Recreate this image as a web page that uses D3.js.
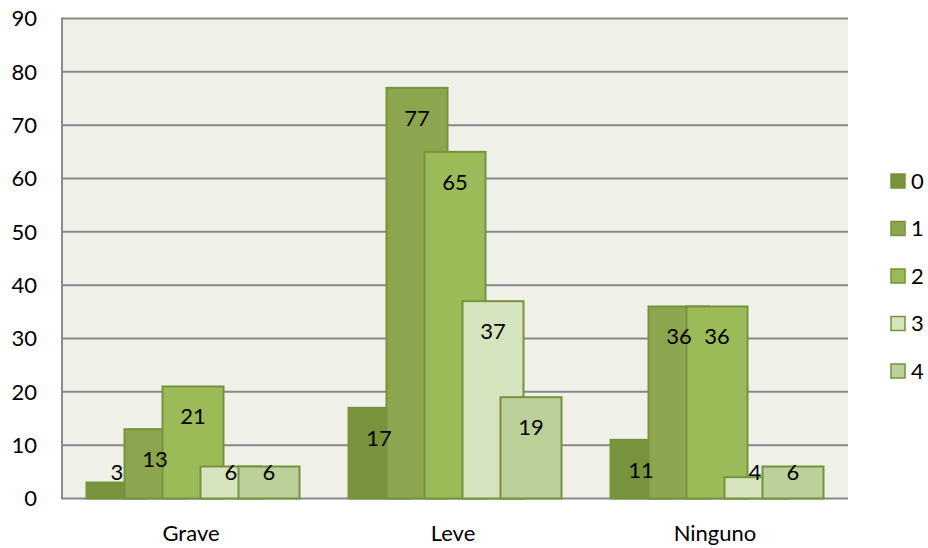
<!DOCTYPE html>
<html>
<head>
<meta charset="utf-8">
<script src="https://cdn.jsdelivr.net/npm/d3@7"></script>
<style>
  body{margin:0;background:#fff;}
  svg text{font-family:Lato,"Open Sans",sans-serif;fill:#000;}
</style>
</head>
<body>
<div id="chart"></div>
<script>
// data
var categories=["Grave","Leve","Ninguno"];
var seriesNames=["0","1","2","3","4"];
var s0=[3,17,11];
var s1=[13,77,36];
var s2=[21,65,36];
var s3=[6,37,4];
var s4=[6,19,6];
var yTicks=[0,10,20,30,40,50,60,70,80,90];

var seriesValues=[s0,s1,s2,s3,s4];
var colors=["#77933c","#8ba64f","#9bbb59","#d6e3bf","#bcd09a"];
var borderColor="#76923c";
var fontSize="22px";

var svgwidth=928,svgheight=548;
var svg=d3.select("#chart").append("svg")
    .attr("width",svgwidth)
    .attr("height",svgheight);

// plot area
var pLeft=62,pRight=848,pTop=18.5,pBottom=498.5;
var barWidth=63,barStep=38;

var x0=d3.scaleBand().domain(categories).range([pLeft,pRight]);
var groupWidth=barStep*(seriesNames.length-1)+barWidth;
var x1=d3.scalePoint().domain(seriesNames).range([0,barStep*(seriesNames.length-1)]);
var y=d3.scaleLinear().domain([0,90]).range([pBottom,pTop]);

// background
svg.append("rect")
    .attr("x",pLeft).attr("y",pTop)
    .attr("width",pRight-pLeft).attr("height",pBottom-pTop)
    .attr("fill","#eff1e8");

// grid lines
svg.append("g").selectAll("line")
    .data(yTicks)
    .enter().append("line")
    .attr("x1",pLeft).attr("x2",pRight)
    .attr("y1",function(d){return y(d);})
    .attr("y2",function(d){return y(d);})
    .attr("stroke","#888888")
    .attr("stroke-width",2);

// y axis line
svg.append("line")
    .attr("x1",pLeft).attr("x2",pLeft)
    .attr("y1",pTop-1).attr("y2",pBottom+1)
    .attr("stroke","#8c8c8c")
    .attr("stroke-width",2);

// y tick labels
svg.append("g").selectAll("text")
    .data(yTicks)
    .enter().append("text")
    .attr("x",37)
    .attr("y",function(d){return y(d);})
    .attr("dy","0.35em")
    .attr("text-anchor","end")
    .attr("font-size",fontSize)
    .text(function(d){return d;});

// bars
var groups=svg.append("g").selectAll("g")
    .data(categories)
    .enter().append("g")
    .attr("transform",function(d){
        return "translate("+(x0(d)+(x0.bandwidth()-groupWidth)/2)+",0)";
    });

groups.each(function(cat,ci){
    var g=d3.select(this);
    seriesNames.forEach(function(s,si){
        var v=seriesValues[si][ci];
        g.append("rect")
            .attr("x",x1(s)+1)
            .attr("y",y(v))
            .attr("width",barWidth-2)
            .attr("height",pBottom-y(v))
            .attr("fill",colors[si])
            .attr("stroke",si==0?colors[0]:borderColor)
            .attr("stroke-width",2);
    });
});

// labels
groups.each(function(cat,ci){
    var g=d3.select(this);
    seriesNames.forEach(function(s,si){
        var v=seriesValues[si][ci];
        g.append("text")
            .attr("x",x1(s)+barWidth/2)
            .attr("y",Math.min(y(v)+30,472))
            .attr("dy","0.35em")
            .attr("text-anchor","middle")
            .attr("font-size",fontSize)
            .text(v);
    });
});

// x labels
svg.append("g").selectAll("text")
    .data(categories)
    .enter().append("text")
    .attr("x",function(d){return x0(d)+x0.bandwidth()/2-2;})
    .attr("y",533)
    .attr("dy","0.35em")
    .attr("text-anchor","middle")
    .attr("font-size",fontSize)
    .text(function(d){return d;});

// legend
var legend=svg.append("g").selectAll("g")
    .data(seriesNames)
    .enter().append("g")
    .attr("transform",function(d,i){return "translate(891,"+(181+i*47.5)+")";});
legend.append("rect")
    .attr("x",0).attr("y",-7)
    .attr("width",14).attr("height",14)
    .attr("fill",function(d,i){return colors[i];})
    .attr("stroke",function(d,i){return i==0?colors[0]:borderColor;})
    .attr("stroke-width",1.5);
legend.append("text")
    .attr("x",20)
    .attr("y",0)
    .attr("dy","0.35em")
    .attr("font-size",fontSize)
    .text(function(d){return d;});
</script>
</body>
</html>
